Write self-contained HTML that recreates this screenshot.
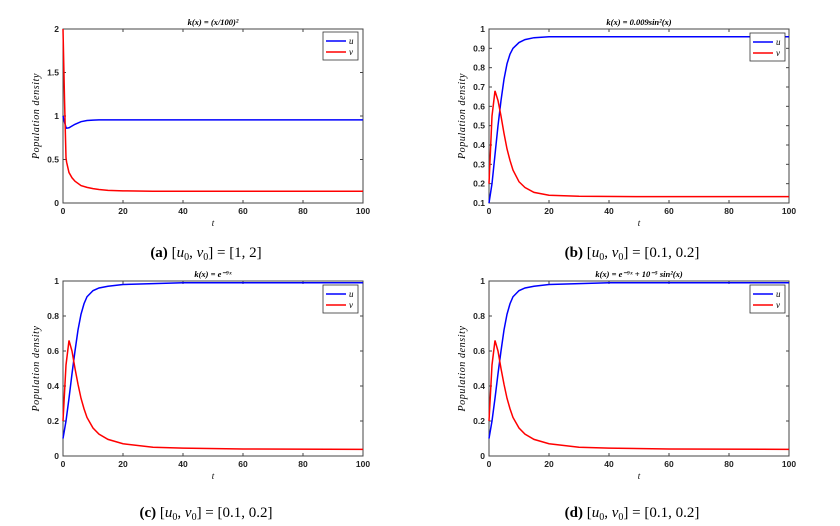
<!DOCTYPE html>
<html><head><meta charset="utf-8"><style>
html,body{margin:0;padding:0;background:#fff;}
body{width:840px;height:521px;overflow:hidden;}
svg text{font-family:"Liberation Sans",sans-serif;}
.tick{font-size:8.5px;font-weight:bold;fill:#222;}
.ser{font-family:"Liberation Serif",serif !important;font-style:italic;}
.cap{font-family:"Liberation Serif",serif !important;font-size:15px;fill:#000;}
</style></head><body>
<svg id="fig" width="840" height="521" xmlns="http://www.w3.org/2000/svg"></svg>
<script>
const tA=[0,0.5,1,1.2,2,3,4,6,8,10,12,15,20,30,50,100];
const uA=[1.0,0.93,0.87,0.86,0.865,0.885,0.905,0.935,0.948,0.953,0.955,0.956,0.956,0.956,0.956,0.956];
const vA=[2.0,1.2,0.52,0.47,0.35,0.29,0.25,0.2,0.18,0.165,0.155,0.145,0.14,0.135,0.135,0.135];
const tB=[0,1,2,3,4,5,6,7,8,10,12,15,20,30,50,100];
const uB=[0.1,0.2,0.35,0.5,0.63,0.74,0.82,0.87,0.9,0.93,0.945,0.955,0.96,0.96,0.96,0.96];
const vB=[0.2,0.55,0.68,0.63,0.55,0.46,0.38,0.32,0.27,0.21,0.18,0.155,0.14,0.135,0.133,0.133];
const tC=[0,1,2,3,4,5,6,7,8,10,12,15,20,30,40,60,100];
const uC=[0.1,0.2,0.33,0.47,0.6,0.72,0.81,0.87,0.91,0.945,0.96,0.97,0.98,0.985,0.99,0.99,0.99];
const vC=[0.2,0.52,0.66,0.6,0.5,0.41,0.33,0.27,0.22,0.16,0.125,0.095,0.07,0.05,0.045,0.04,0.038];
const uD=[0.1,0.2,0.33,0.47,0.6,0.72,0.81,0.87,0.91,0.945,0.96,0.97,0.98,0.985,0.99,0.99,0.99];
const vD=[0.2,0.52,0.66,0.6,0.5,0.41,0.33,0.27,0.22,0.16,0.125,0.095,0.07,0.05,0.045,0.04,0.038];
const xTicks=[0,20,40,60,80,100];
const yTicksA=[0,0.5,1,1.5,2];
const yTicksB=[0.1,0.2,0.3,0.4,0.5,0.6,0.7,0.8,0.9,1];
const yTicksC=[0,0.2,0.4,0.6,0.8,1];

const NS='http://www.w3.org/2000/svg';
const svg=document.getElementById('fig');
function mk(tag,attrs,parent,txt){const e=document.createElementNS(NS,tag);for(const k in attrs)e.setAttribute(k,attrs[k]);if(txt!==undefined)e.textContent=txt;(parent||svg).appendChild(e);return e;}

function panel(id,L,T,R,B,ymin,ymax,yTicks,t,u,v,title,cap,capX,capY,legX,legY){
  const g=mk('g',{});
  
  
  const xs=x=>L+(x-0)/100*(R-L);
  const ys=y=>B-(y-ymin)/(ymax-ymin)*(B-T);
  const box=mk('rect',{x:L,y:T,width:R-L,height:B-T,fill:'#fff',stroke:'#444','stroke-width':1},g);
  
  
  xTicks.forEach(x=>{
    mk('line',{x1:xs(x),x2:xs(x),y1:B,y2:B-3,stroke:'#444'},g);
    mk('line',{x1:xs(x),x2:xs(x),y1:T,y2:T+3,stroke:'#444'},g);
    const tx=mk('text',{x:xs(x),y:B+11,'text-anchor':'middle',class:'tick'},g,String(x));
    
    
  });
  yTicks.forEach(y=>{
    mk('line',{x1:L,x2:L+3,y1:ys(y),y2:ys(y),stroke:'#444'},g);
    mk('line',{x1:R,x2:R-3,y1:ys(y),y2:ys(y),stroke:'#444'},g);
    const tx=mk('text',{x:L-4,y:ys(y)+3,'text-anchor':'end',class:'tick'},g,String(y));
    
    
  });
  const pts=arr=>arr.map((val,i)=>xs(t[i]).toFixed(2)+','+ys(val).toFixed(2)).join(' ');
  const lu=mk('polyline',{points:pts(u),fill:'none',stroke:'#0000ff','stroke-width':1.5},g);
  
  
  const lv=mk('polyline',{points:pts(v),fill:'none',stroke:'#ff0000','stroke-width':1.5},g);
  
  
  const ti=mk('text',{x:(L+R)/2,y:T-4,'text-anchor':'middle',class:'ser','font-size':'8.5px','font-weight':'bold'},g,title);
  
  
  const xl=mk('text',{x:(L+R)/2,y:B+23,'text-anchor':'middle',class:'ser','font-size':'9px'},g,'t');
  
  
  const yl=mk('text',{x:0,y:0,'text-anchor':'middle',class:'ser','font-size':'10px','letter-spacing':'0.6px',transform:'translate('+(L-24)+','+((T+B)/2)+') rotate(-90)'},g,'Population  density');
  
  
  const lg=mk('g',{},g);
  
  
  mk('rect',{x:legX,y:legY,width:35,height:28,fill:'#fff',stroke:'#333','stroke-width':0.8},lg);
  mk('line',{x1:legX+3,x2:legX+23,y1:legY+9,y2:legY+9,stroke:'#0000ff','stroke-width':1.5},lg);
  mk('line',{x1:legX+3,x2:legX+23,y1:legY+20,y2:legY+20,stroke:'#ff0000','stroke-width':1.5},lg);
  const e1=mk('text',{x:legX+26,y:legY+12,class:'ser','font-size':'9px'},lg,'u');
  
  
  const e2=mk('text',{x:legX+26,y:legY+23,class:'ser','font-size':'9px'},lg,'v');
  
  
  const c=mk('text',{x:capX,y:capY,'text-anchor':'middle',class:'cap'},g);
  
  
  mk('tspan',{'font-weight':'bold'},c,'('+id+')');
  mk('tspan',{},c,' [');
  mk('tspan',{'font-style':'italic'},c,'u');
  mk('tspan',{'font-size':'10px',dy:'3'},c,'0');
  mk('tspan',{dy:'-3'},c,', ');
  mk('tspan',{'font-style':'italic'},c,'v');
  mk('tspan',{'font-size':'10px',dy:'3'},c,'0');
  mk('tspan',{dy:'-3'},c,'] = '+cap);
}
panel('a',63,29,363,203,0,2,yTicksA,tA,uA,vA,'k(x) = (x/100)²','[1, 2]',206,257,323,32);
panel('b',489,29,789,203,0.1,1,yTicksB,tB,uB,vB,'k(x) = 0.009sin²(x)','[0.1, 0.2]',632,257,750,33);
panel('c',63,281,363,456,0,1,yTicksC,tC,uC,vC,'k(x) = e⁻⁹ˣ','[0.1, 0.2]',206,517,323,285);
panel('d',489,281,789,456,0,1,yTicksC,tC,uD,vD,'k(x) = e⁻⁹ˣ + 10⁻⁵ sin²(x)','[0.1, 0.2]',632,517,750,285);
</script>
</body></html>
